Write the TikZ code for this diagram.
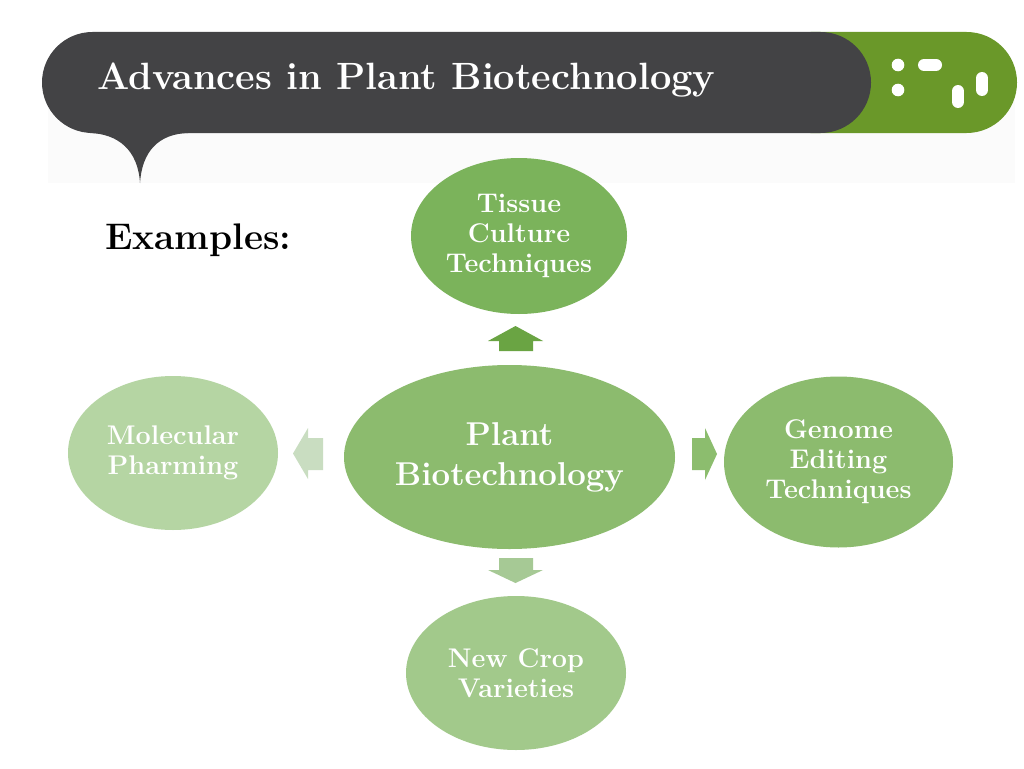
\documentclass[tikz,border=0pt]{standalone}
\usepackage{fontspec}
\usetikzlibrary{shapes.geometric}
\definecolor{darkbar}{HTML}{434345}
\definecolor{greenbar}{HTML}{6A9829}
\definecolor{cTissue}{HTML}{7BB35B}
\definecolor{cCenter}{HTML}{8CBB6E}
\definecolor{cGenome}{HTML}{8CBB6E}
\definecolor{cCrop}{HTML}{A2C98B}
\definecolor{cMol}{HTML}{B5D5A3}
\definecolor{aUp}{HTML}{6AA443}
\definecolor{aRight}{HTML}{8CBD6E}
\definecolor{aDown}{HTML}{A6C995}
\definecolor{aLeft}{HTML}{C9DDC1}
\definecolor{lightshade}{HTML}{FBFBFB}
\tikzset{
  bubble/.style={ellipse, inner sep=0pt, text=white, align=center, font=\bfseries\fontsize{27}{30}\selectfont},
  pillstyle/.style={line width=12pt, line cap=round, white},
}
\begin{document}
\begin{tikzpicture}[x=1pt,y=-1pt]
\useasboundingbox (0,0) rectangle (1024,768);
\fill[white] (0,0) rectangle (1024,768);
% light shading under header
\fill[lightshade] (48,100) rectangle (1015,183);
% green bar
\fill[greenbar, rounded corners=50.5pt] (760,32) rectangle (1017,133);
% dark bar
\fill[darkbar, rounded corners=50.5pt] (42,32) rectangle (871,133);
% tail
\fill[darkbar] (90,120) -- (90,133) .. controls (118,134) and (138,150) .. (140,183)
  .. controls (142,152) and (158,134) .. (188,133) -- (188,120) -- cycle;
% icons
\fill[white] (898,65) circle (6.3);
\fill[white] (898,90) circle (6.3);
\draw[pillstyle] (924,65) -- (936,65);
\draw[pillstyle] (958,91) -- (958,102);
\draw[pillstyle] (982,78) -- (982,90);
\node[anchor=base west, text=white, font=\bfseries\fontsize{38}{46}\selectfont, inner sep=0pt] (title) at (97,89) {Advances in Plant Biotechnology};
\node[anchor=base west, text=black, font=\bfseries\fontsize{37}{44}\selectfont, inner sep=0pt] (examples) at (105,249) {Examples:};
% ellipses
\node[bubble, fill=cTissue, minimum width=216pt, minimum height=156pt] (tissue) at (519,236) {Tissue\\Culture\\Techniques};
\node[bubble, fill=cCenter, minimum width=331pt, minimum height=184pt, font=\bfseries\fontsize{33}{40}\selectfont] (center) at (509.5,457) {Plant\\Biotechnology};
\node[bubble, fill=cGenome, minimum width=229pt, minimum height=171pt] (genome) at (838.5,462) {Genome\\Editing\\Techniques};
\node[bubble, fill=cCrop, minimum width=220pt, minimum height=154pt] (crop) at (516,673) {New Crop\\Varieties};
\node[bubble, fill=cMol, minimum width=210pt, minimum height=154pt] (mol) at (173,453) {Molecular\\Pharming};
% block arrows
\fill[aUp] (499,351) -- (499,341) -- (488,341) -- (515.5,326) -- (543,341) -- (533,341) -- (533,351) -- cycle;
\fill[aDown] (499,558) -- (499,570) -- (488,570) -- (515.5,583) -- (543,570) -- (533,570) -- (533,558) -- cycle;
\fill[aLeft] (323,438) -- (308,438) -- (308,428) -- (293,453.5) -- (308,479) -- (308,470) -- (323,470) -- cycle;
\fill[aRight] (692,438) -- (705,438) -- (705,428) -- (717,454) -- (705,480) -- (705,470) -- (692,470) -- cycle;
\end{tikzpicture}
\end{document}
